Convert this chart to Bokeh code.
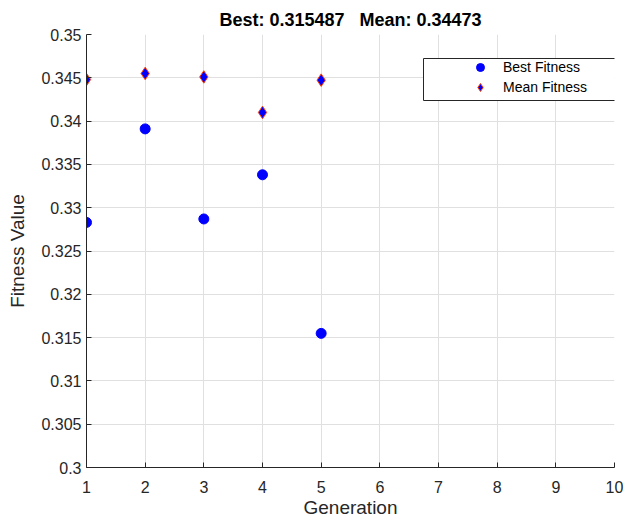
from bokeh.plotting import figure
from bokeh.models import FixedTicker, Legend, LegendItem, Range1d, BoxAnnotation
from bokeh.embed import file_html
from bokeh.resources import INLINE

# ---- data ----
generations = [1, 2, 3, 4, 5]
best_fitness = [0.3283, 0.3391, 0.3287, 0.3338, 0.315487]
mean_fitness = [0.3448, 0.3455, 0.3451, 0.3410, 0.34473]

x_ticks = [1, 2, 3, 4, 5, 6, 7, 8, 9, 10]
y_ticks = [0.3, 0.305, 0.31, 0.315, 0.32, 0.325, 0.33, 0.335, 0.34, 0.345, 0.35]
y_tick_labels = ["0.3", "0.305", "0.31", "0.315", "0.32", "0.325",
                 "0.33", "0.335", "0.34", "0.345", "0.35"]

title_text = "Best: 0.315487\u00a0\u00a0\u00a0Mean: 0.34473"
x_label = "Generation"
y_label = "Fitness Value"
series_names = ["Best Fitness", "Mean Fitness"]

FONT = "Liberation Sans"
TXT = "#262626"

p = figure(width=625, height=520,
           x_range=Range1d(1, 10), y_range=Range1d(0.3, 0.35),
           output_backend="svg", toolbar_location=None,
           min_border_left=86, min_border_right=11,
           min_border_top=34, min_border_bottom=52)

p.background_fill_color = "white"
p.border_fill_color = "white"
p.outline_line_color = None

p.title.text = title_text
p.title.align = "center"
p.title.text_font = FONT
p.title.text_font_size = "18px"
p.title.text_font_style = "bold"
p.title.text_color = "black"
p.title.standoff = 9

p.xaxis.ticker = FixedTicker(ticks=x_ticks)
p.yaxis.ticker = FixedTicker(ticks=y_ticks)
p.yaxis.major_label_overrides = {v: s for v, s in zip(y_ticks, y_tick_labels)}
p.xaxis.axis_label = x_label
p.yaxis.axis_label = y_label

for ax in (p.xaxis[0], p.yaxis[0]):
    ax.major_tick_in = 5
    ax.major_tick_out = 0
    ax.minor_tick_line_color = None
    ax.axis_line_color = TXT
    ax.major_tick_line_color = TXT
    ax.major_label_text_font = FONT
    ax.major_label_text_font_size = "16px"
    ax.major_label_text_color = TXT
    ax.axis_label_text_font = FONT
    ax.axis_label_text_font_size = "19px"
    ax.axis_label_text_font_style = "normal"
    ax.axis_label_text_color = TXT

p.xaxis.major_label_standoff = 13
p.xaxis.axis_label_standoff = 1
p.yaxis.major_label_standoff = 5
p.yaxis.axis_label_standoff = 10

p.grid.grid_line_color = "#e0e0e0"
p.grid.grid_line_width = 1

r_best = p.scatter(generations, best_fitness, marker="circle", size=10,
                   fill_color="#0000ff", line_color="#0000ff")
r_mean = p.scatter(generations, mean_fitness, marker="diamond",
                   size=12.5, fill_color="#0000ff", line_color="#ff4000", line_width=1)

# legend frame (MATLAB-style box) drawn behind the legend entries
legend_box = BoxAnnotation(left=423, right=623, top=58, bottom=100,
                           left_units="canvas", right_units="canvas",
                           top_units="canvas", bottom_units="canvas",
                           fill_color="white", fill_alpha=1.0,
                           line_color=TXT, line_width=1, line_alpha=1.0)
p.add_layout(legend_box)

legend = Legend(items=[LegendItem(label=series_names[0], renderers=[r_best]),
                       LegendItem(label=series_names[1], renderers=[r_mean])],
                location=(384, 370), padding=0, spacing=0, margin=0,
                glyph_width=20, glyph_height=20, label_standoff=13,
                label_height=20,
                label_text_font=FONT, label_text_font_size="14px",
                label_text_color="black",
                border_line_color=None, background_fill_alpha=0.0)
p.add_layout(legend, "center")

open("out.html", "w").write(file_html(p, INLINE))
